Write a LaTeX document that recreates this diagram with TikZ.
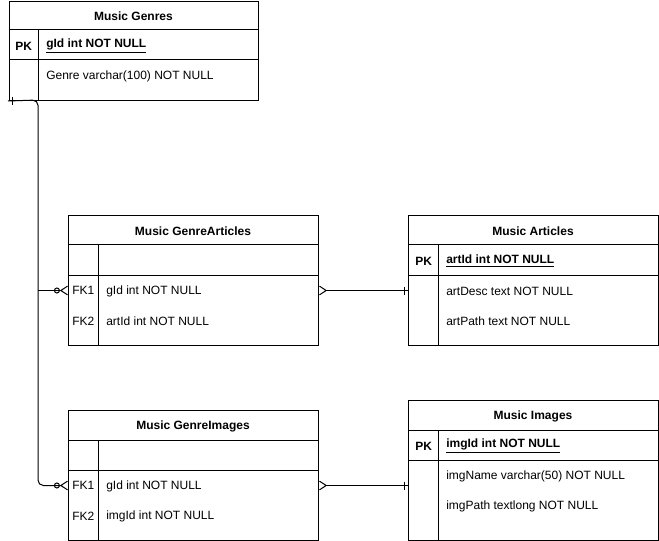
\documentclass[tikz,border=0pt]{standalone}
\usepackage{fontspec}
\setmainfont{Liberation Sans}
\usetikzlibrary{arrows.meta, calc}
\tikzset{
  tbl/.style={rectangle, draw=black, line width=0.75pt, inner sep=0pt,
              minimum width=187.5pt, anchor=north west},
  ttl/.style={font=\fontsize{9}{11}\selectfont\bfseries, inner sep=0pt},
  fld/.style={font=\fontsize{9}{11}\selectfont, inner sep=0pt, anchor=west},
  keyfld/.style={fld, font=\fontsize{9}{11}\selectfont\bfseries},
  grid/.style={line width=0.75pt},
  rel/.style={line width=0.75pt, rounded corners=4pt},
  zeromany/.style={-{Circle[open, length=4.5pt] Straight Barb[reversed, length=5pt, width=6.5pt]}},
  manyfrom/.style={{Straight Barb[reversed, length=5pt, width=6.5pt]}-},
}
\begin{document}
\begin{tikzpicture}[x=0.75pt, y=-0.75pt]
  \useasboundingbox (0,0) rectangle (659,541);
  %% Music Genres
  \node[tbl, minimum width=186.75pt, minimum height=74.25pt] (genres) at (9,1) {};
  \draw[grid] (9,30) -- (258,30) (9,60) -- (258,60) (38,30) -- (38,100);
  \node[ttl] (genres-t) at (133.5,16) {Music Genres};
  \node[keyfld] (g-pk) at (15,46) {PK};
  \node[keyfld] (g-k1) at (46,46) {\underline{gId int NOT NULL}};
  \node[fld] (g-f1) at (46,76) {Genre varchar(100) NOT NULL};
  %% Music GenreArticles
  \node[tbl, minimum height=97.5pt] (gart) at (68,215) {};
  \draw[grid] (68,245) -- (318,245) (68,275) -- (318,275) (98,245) -- (98,345);
  \node[ttl] (gart-t) at (193,231) {Music GenreArticles};
  \node[fld] (ga-fk1) at (72,290.5) {FK1};
  \node[fld] (ga-f1) at (106,291) {gId int NOT NULL};
  \node[fld] (ga-fk2) at (72,321) {FK2};
  \node[fld] (ga-f2) at (106,321) {artId int NOT NULL};
  %% Music Articles
  \node[tbl, minimum height=97.5pt] (art) at (408,215) {};
  \draw[grid] (408,245) -- (658,245) (408,275) -- (658,275) (438,245) -- (438,345);
  \node[ttl] (art-t) at (533,231) {Music Articles};
  \node[keyfld] (a-pk) at (415,261) {PK};
  \node[keyfld] (a-k1) at (446,261) {\underline{artId int NOT NULL}};
  \node[fld] (a-f1) at (446,291) {artDesc text NOT NULL};
  \node[fld] (a-f2) at (446,321) {artPath text NOT NULL};
  %% Music GenreImages
  \node[tbl, minimum height=97.5pt] (gimg) at (68,410) {};
  \draw[grid] (68,440) -- (318,440) (68,470) -- (318,470) (98,440) -- (98,540);
  \node[ttl] (gimg-t) at (193,426) {Music GenreImages};
  \node[fld] (gi-fk1) at (72,485.5) {FK1};
  \node[fld] (gi-f1) at (106,486) {gId int NOT NULL};
  \node[fld] (gi-fk2) at (72,516) {FK2};
  \node[fld] (gi-f2) at (106,516) {imgId int NOT NULL};
  %% Music Images
  \node[tbl, minimum height=105pt] (img) at (408,400) {};
  \draw[grid] (408,430) -- (658,430) (408,460) -- (658,460) (438,430) -- (438,540);
  \node[ttl] (img-t) at (533,416) {Music Images};
  \node[keyfld] (i-pk) at (415,446) {PK};
  \node[keyfld] (i-k1) at (446,446) {\underline{imgId int NOT NULL}};
  \node[fld] (i-f1) at (446,476) {imgName varchar(50) NOT NULL};
  \node[fld] (i-f2) at (446,506) {imgPath textlong NOT NULL};
  %% relations
  \coordinate (g-out) at ($(genres.south west)+(-1,0)$);
  \coordinate (bus) at (38,100);
  \draw[rel, zeromany] (g-out) -- (bus) |- (gimg.west |- gi-fk1);
  \draw[rel, zeromany] (bus |- ga-fk1) -- (gart.west |- ga-fk1);
  \draw[grid] ($(g-out)+(4,-4)$) -- ++(0,8);
  \draw[rel, manyfrom] (gart.east |- ga-fk1) -- (art.west |- ga-fk1);
  \draw[grid] ($(art.west |- ga-fk1)+(-4,-4)$) -- ++(0,8);
  \draw[rel, manyfrom] (gimg.east |- gi-fk1) -- (img.west |- gi-fk1);
  \draw[grid] ($(img.west |- gi-fk1)+(-4,-4)$) -- ++(0,8);
\end{tikzpicture}
\end{document}
